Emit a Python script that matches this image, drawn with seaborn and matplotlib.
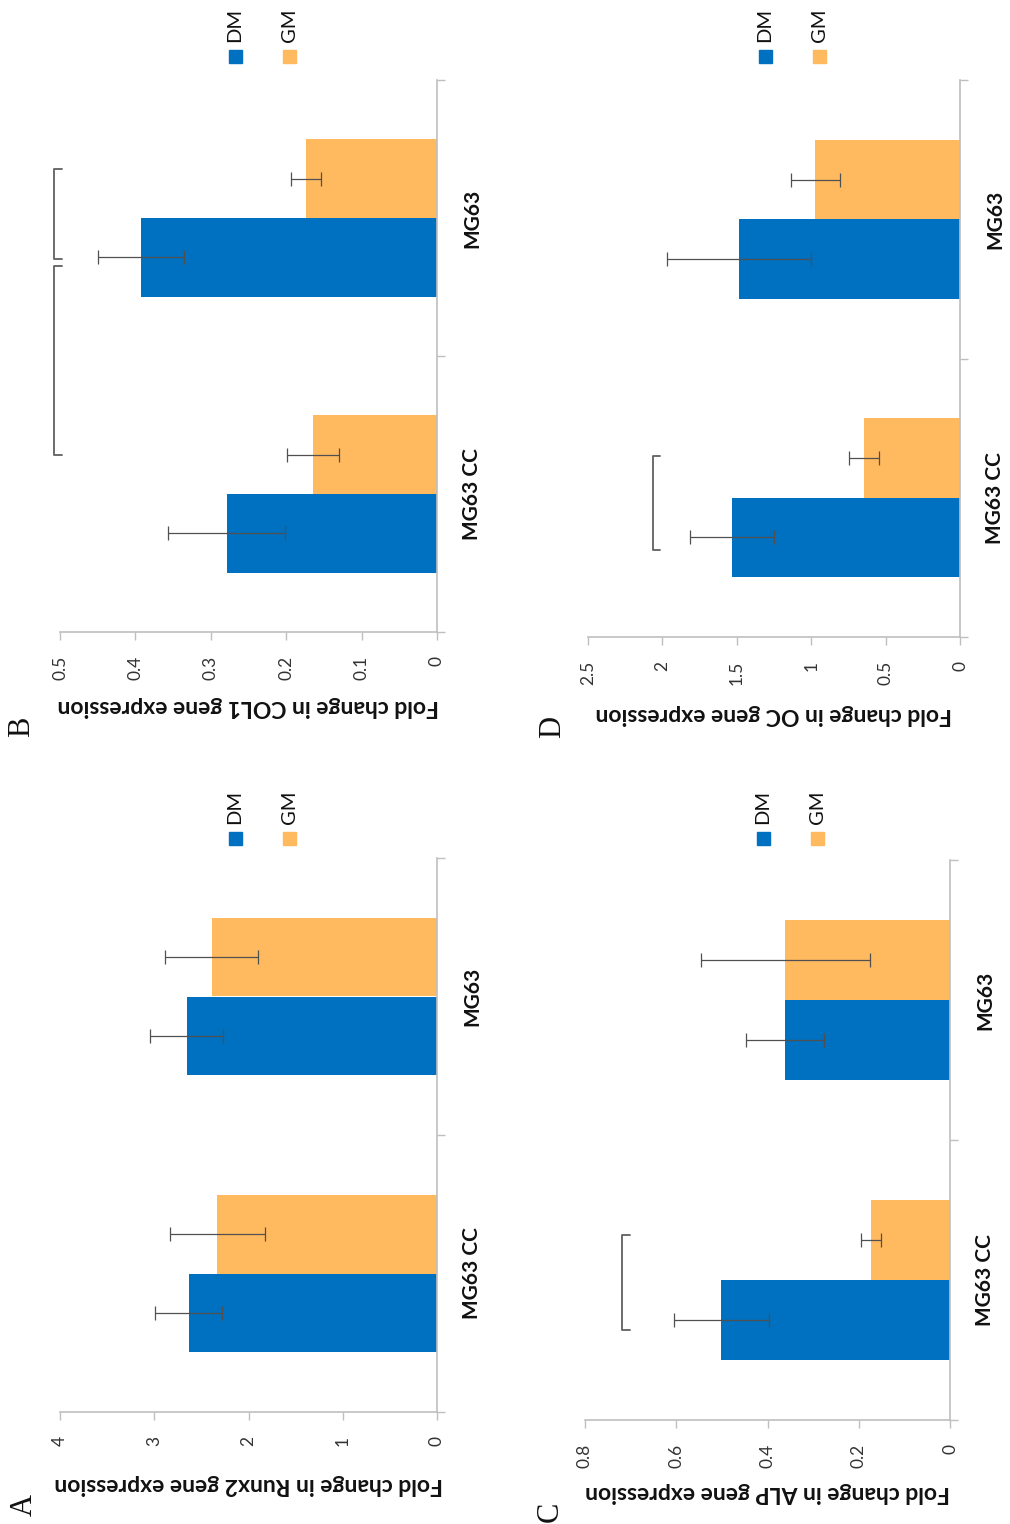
import numpy as np
import pandas as pd
import matplotlib.pyplot as plt
import seaborn as sns

# whole figure is the original 2x2 bar chart turned 90 deg counter-clockwise
lines = ['MG63 CC', 'MG63']
media = ['DM', 'GM']
colors = {'DM': '#0070C0', 'GM': '#FFB95E'}

runx2_dm = [2.635, 2.656]
runx2_gm = [2.33, 2.39]
runx2_dm_err = [0.355, 0.39]
runx2_gm_err = [0.504, 0.495]

col1_dm = [0.279, 0.393]
col1_gm = [0.164, 0.174]
col1_dm_err = [0.0775, 0.057]
col1_gm_err = [0.0345, 0.02]

alp_dm = [0.501, 0.362]
alp_gm = [0.174, 0.361]
alp_dm_err = [0.1045, 0.0855]
alp_gm_err = [0.022, 0.185]

oc_dm = [1.532, 1.483]
oc_gm = [0.645, 0.972]
oc_dm_err = [0.282, 0.484]
oc_gm_err = [0.098, 0.163]

# significance brackets: (from, to) on the category axis, value where drawn
col1_brackets = [(1.176, 0.85, 0.508), (0.827, 0.141, 0.508)]
alp_brackets = [(0.161, -0.179, 0.718)]
oc_brackets = [(0.151, -0.188, 2.065)]

panels = [
    dict(tag='A', gene='Runx2', dm=runx2_dm, gm=runx2_gm, dm_err=runx2_dm_err, gm_err=runx2_gm_err,
         xmax=4, step=1, brackets=[], px=(60, 437, 858, 1412), lab_off=73,
         leg=(235, 289, 838), tagpos=(24, 1505)),
    dict(tag='B', gene='COL1', dm=col1_dm, gm=col1_gm, dm_err=col1_dm_err, gm_err=col1_gm_err,
         xmax=0.5, step=0.1, brackets=col1_brackets, px=(60, 437, 80, 632), lab_off=74,
         leg=(235, 289, 56), tagpos=(22, 727)),
    dict(tag='C', gene='ALP', dm=alp_dm, gm=alp_gm, dm_err=alp_dm_err, gm_err=alp_gm_err,
         xmax=0.8, step=0.2, brackets=alp_brackets, px=(585, 950, 860, 1420), lab_off=72,
         leg=(763, 817, 838), tagpos=(550, 1512)),
    dict(tag='D', gene='OC', dm=oc_dm, gm=oc_gm, dm_err=oc_dm_err, gm_err=oc_gm_err,
         xmax=2.5, step=0.5, brackets=oc_brackets, px=(588, 960, 80, 637), lab_off=77,
         leg=(765, 819, 56), tagpos=(553, 727)),
]

sns.set_style('white')
plt.rcParams['font.family'] = ['Lato', 'DejaVu Sans']

W, H = 1010, 1524
fig = plt.figure(figsize=(W / 100, H / 100), dpi=100)
grey = '#BFBFBF'
txt = '#333333'

for p in panels:
    l, r, t, b = p['px']
    ax = fig.add_axes([l / W, 1 - b / H, (r - l) / W, (b - t) / H])
    df = pd.DataFrame({
        'line': lines * 2,
        'medium': ['DM'] * 2 + ['GM'] * 2,
        'value': p['dm'] + p['gm'],
    })
    sns.barplot(data=df, y='line', x='value', hue='medium', order=lines, hue_order=media,
                orient='h', palette=colors, width=0.57, errorbar=None, legend=False,
                saturation=1, ax=ax)
    errs = {'DM': p['dm_err'], 'GM': p['gm_err']}
    bar_sets = list(ax.containers)[:2]
    for m, cont in zip(media, bar_sets):
        for bar in cont:
            bar.set_edgecolor('none')
            yc = bar.get_y() + bar.get_height() / 2
            i = int(round(yc))
            ax.errorbar(bar.get_width(), yc, xerr=errs[m][i], fmt='none',
                        ecolor='#505050', elinewidth=0.9, capsize=5, capthick=0.9, zorder=5)

    ax.set_ylim(-0.5, 1.5)
    ax.set_xlim(p['xmax'], 0)
    ticks = np.arange(0, p['xmax'] + p['step'] / 2, p['step'])
    ax.set_xticks(ticks)
    ax.set_xticklabels([f'{v:g}' for v in ticks])
    ax.tick_params(axis='x', direction='out', length=6, width=1, color=grey, pad=11,
                   labelsize=12.5, labelcolor=txt, labelrotation=90, bottom=True)

    ax.yaxis.tick_right()
    ax.set_yticks([0, 1])
    ax.set_yticklabels(lines, rotation=90, va='center', fontweight='bold', fontsize=15)
    ax.set_yticks([-0.5, 0.5, 1.5], minor=True)
    ax.tick_params(axis='y', which='major', length=0, pad=18, labelcolor='#111111')
    ax.tick_params(axis='y', which='minor', length=6, width=1, color=grey, direction='out')
    ax.set_ylabel('')

    for s in ['top', 'left']:
        ax.spines[s].set_visible(False)
    for s in ['right', 'bottom']:
        ax.spines[s].set_color(grey)
        ax.spines[s].set_linewidth(1.2)

    ax.set_xlabel(f"Fold change in {p['gene']} gene expression", rotation=180,
                  fontweight='bold', fontsize=16.5, color='#111111', va='center', ha='center')
    ax.xaxis.set_label_coords(0.5, -p['lab_off'] / (b - t))

    serif = 0.02 * p['xmax']
    for y0, y1, xv in p['brackets']:
        ax.plot([xv - serif, xv, xv, xv - serif], [y0, y0, y1, y1], color='#606060',
                lw=1.3, clip_on=False, zorder=6)

    # legend, drawn by hand so it can stand on its side
    lx_dm, lx_gm, ly = p['leg']
    for m, lx in zip(media, [lx_dm, lx_gm]):
        fig.patches.append(plt.Rectangle(((lx - 6.5) / W, 1 - (ly + 6.5) / H), 13 / W, 13 / H,
                                         transform=fig.transFigure, color=colors[m]))
        fig.text(lx / W, 1 - (ly - 14) / H, m, rotation=90, ha='center', va='bottom',
                 fontsize=14.5, color='#111111')

    tx, ty = p['tagpos']
    fig.text(tx / W, 1 - ty / H, p['tag'], rotation=90, ha='center', va='center',
             fontsize=22, family='Liberation Serif', color='#111111')

fig.savefig('out.png', dpi=100, facecolor='white')
